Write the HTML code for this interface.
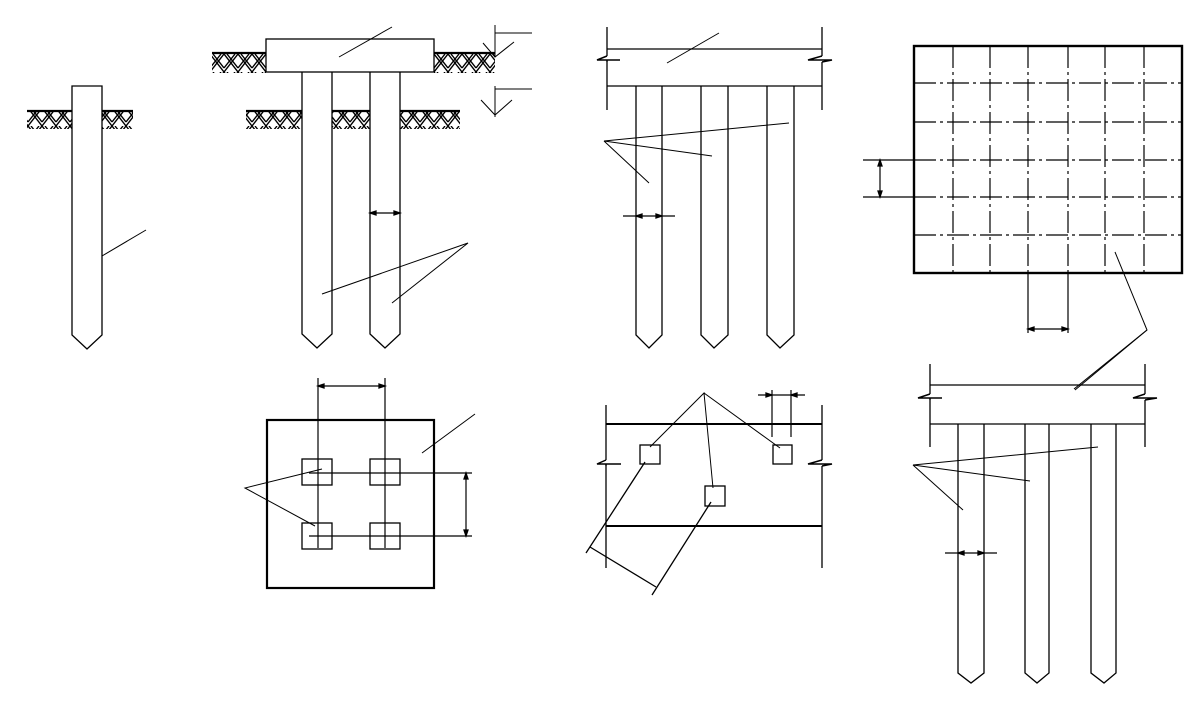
<!DOCTYPE html>
<html><head><meta charset="utf-8"><style>html,body{margin:0;padding:0;background:#fff}svg{display:block}</style></head>
<body>
<svg width="1201" height="705" viewBox="0 0 1201 705" xmlns="http://www.w3.org/2000/svg" fill="none" stroke="#000" stroke-width="1.3">
<defs>
<pattern id="h" width="14" height="18" patternUnits="userSpaceOnUse">
<path d="M0 0L14 18M14 0L0 18M3 0L14 14M11 0L0 14" stroke="#000" stroke-width="1.4"/>
</pattern>
</defs>
<!-- pile 1 -->
<path d="M72 86H102V335L87 349L72 335Z"/>
<rect x="27" y="111" width="45" height="18" fill="url(#h)" stroke="none"/>
<rect x="102" y="111" width="31" height="18" fill="url(#h)" stroke="none"/>
<path d="M27 111H72M102 111H133" stroke-width="2.2"/>
<path d="M102 256L146 230" stroke-width="1"/>

<!-- group 2 -->
<rect x="266" y="39" width="168" height="33"/>
<rect x="212" y="53" width="54" height="20" fill="url(#h)" stroke="none"/>
<rect x="434" y="53" width="61" height="20" fill="url(#h)" stroke="none"/>
<path d="M212 53H266M434 53H495" stroke-width="2.2"/>
<path d="M302 72V334L317 348L332 334V72M370 72V334L385 348L400 334V72"/>
<rect x="246" y="111" width="56" height="18" fill="url(#h)" stroke="none"/>
<rect x="332" y="111" width="38" height="18" fill="url(#h)" stroke="none"/>
<rect x="400" y="111" width="60" height="18" fill="url(#h)" stroke="none"/>
<path d="M246 111H302M332 111H370M400 111H460" stroke-width="2.2"/>
<path d="M339 57L392 27" stroke-width="1"/>
<path d="M495 25V57M495 33H532M483 43L495 57L514 42M495 86V117M495 89H532M481 100L495 115L512 100" stroke-width="1"/>
<path d="M370 213H400" stroke-width="1.2"/>
<path d="M370 213l6-2v4zM400 213l-6-2v4z" fill="#000"/>
<path d="M322 294L468 243L392 303" stroke-width="1"/>

<!-- group 3 -->
<path d="M607 27V56M607 62V110M822 27V56M822 62V110M607 49H822M607 86H822"/>
<path d="M607 56L597 60H620M607 60V62M822 56L808 60H832L822 62" stroke-width="1.5"/>
<path d="M636 86V335L649 348L662 335V86M701 86V335L714 348L728 335V86M767 86V335L780 348L794 335V86"/>
<path d="M667 63L719 33" stroke-width="1"/>
<path d="M789 123L604 141L712 156M604 141L649 183" stroke-width="1"/>
<path d="M623 216H675" stroke-width="1.2"/>
<path d="M636 216l6-2v4zM662 216l-6-2v4z" fill="#000"/>

<!-- grid plan -->
<rect x="914" y="46" width="268" height="227" stroke-width="2.4"/>
<g stroke-dasharray="22 4 3 4" stroke-width="1.2">
<path d="M953 46V273M990 46V273M1028 46V273M1068 46V273M1105 46V273M1144 46V273"/>
<path d="M914 83H1182M914 122H1182M914 160H1182M914 197H1182M914 235H1182"/>
</g>
<path d="M863 160H914M863 197H914M880 160V197M1028 273V333M1068 273V333M1028 329H1068" stroke-width="1.2"/>
<path d="M880 160l-2 6h4zM880 197l-2-6h4zM1028 329l6-2v4zM1068 329l-6-2v4z" fill="#000"/>
<path d="M1115 252L1147 330L1075 390" stroke-width="1"/>

<!-- square plan -->
<rect x="267" y="420" width="167" height="168" stroke-width="2.2"/>
<path d="M318 378V548M385 378V548M318 386H385M309 473H472M309 536H472M466 473V536" stroke-width="1.2"/>
<path d="M318 386l6-2v4zM385 386l-6-2v4zM466 473l-2 6h4zM466 536l-2-6h4z" fill="#000"/>
<rect x="302" y="459" width="30" height="26"/><rect x="370" y="459" width="30" height="26"/>
<rect x="302" y="523" width="30" height="26"/><rect x="370" y="523" width="30" height="26"/>
<path d="M322 469L245 488L315 526M422 453L475 414" stroke-width="1"/>

<!-- middle bottom -->
<path d="M606 405V460M606 466V568M822 405V460M822 466V568"/>
<path d="M606 460L597 464H621M606 464V466M822 460L808 464H832L822 466" stroke-width="1.5"/>
<path d="M606 424H822M606 526H822" stroke-width="2"/>
<rect x="640" y="445" width="20" height="19"/><rect x="773" y="445" width="19" height="19"/><rect x="705" y="486" width="20" height="20"/>
<path d="M650 447L704 393L713 488M704 393L780 448" stroke-width="1"/>
<path d="M772 390V437M791 390V437M758 395H805" stroke-width="1.2"/>
<path d="M772 395l-6-2v4zM791 395l6-2v4z" fill="#000"/>
<path d="M645 462L586 553M711 502L652 595M590 547L656 587" stroke-width="1.3"/>

<!-- bottom right -->
<path d="M930 364V394M930 400V447M1145 364V394M1145 400V447M930 385H1145M930 424H1145"/>
<path d="M930 394L918 398H942M930 398V400M1145 394L1133 398H1157L1145 400" stroke-width="1.5"/>
<path d="M958 424V673L971 683L984 673V424M1025 424V673L1037 683L1049 673V424M1091 424V673L1104 683L1116 673V424"/>
<path d="M1074 389L1147 330" stroke-width="1"/>
<path d="M1098 447L913 465L1030 481M913 465L963 510" stroke-width="1"/>
<path d="M945 553H997" stroke-width="1.2"/>
<path d="M958 553l6-2v4zM984 553l-6-2v4z" fill="#000"/>
</svg>
</body></html>
